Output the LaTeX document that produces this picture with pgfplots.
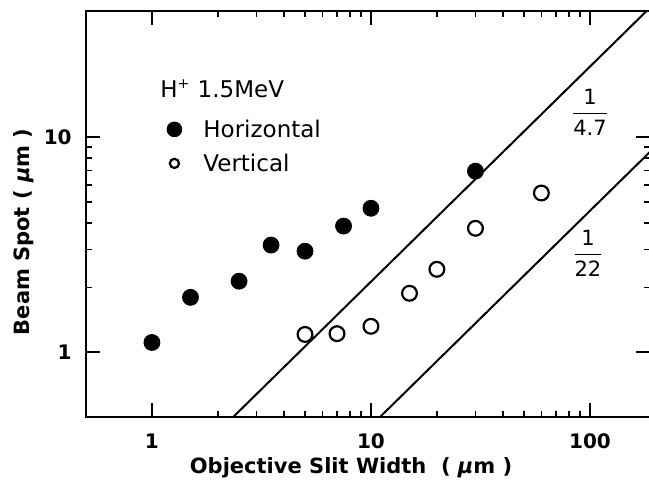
\documentclass[border=0pt]{standalone}
\usepackage{amsmath}
\usepackage{fontspec}
\setmainfont{DejaVu Sans}
\usepackage{pgfplots}
\pgfplotsset{compat=1.18}
\pgfplotsset{myleg/.style={legend image code/.code={\draw[##1, mark size=#1] plot coordinates {(0pt,4pt)}; \path[draw=none,fill=none] (-6pt,-1pt) rectangle (14.5pt,9pt);}}}
\begin{document}
\begin{tikzpicture}
\begin{loglogaxis}[
  at={(0,0)}, anchor=south west,
  scale only axis, width=282pt, height=203pt,
  xmin=0.5, xmax=188, ymin=0.5, ymax=38.6,
  xtick={1,10,100}, xticklabels={1,10,100},
  ytick={1,10}, yticklabels={1,10},
  tick align=inside,
  major tick length=7pt, minor tick length=3pt,
  every tick/.style={black, line width=0.8pt},
  axis line style={line width=1pt},
  tick label style={font=\bfseries\fontsize{10}{12}\selectfont, inner sep=0pt},
  x tick label style={anchor=center, yshift=-12pt},
  y tick label style={anchor=east},
  yticklabel shift=7pt,
  xlabel={Objective Slit Width\ \ ( \textit{μ}m )},
  ylabel={Beam Spot ( \textit{μ}m )},
  every axis x label/.style={at={(axis description cs:0.4699,-0.1256)}, anchor=center, font=\bfseries\fontsize{10.5}{12}\selectfont},
  every axis y label/.style={at={(axis description cs:-0.1100,0.456)}, rotate=90, anchor=center, font=\bfseries\fontsize{10.5}{12}\selectfont},
  legend style={draw=none, fill=none, at={(0.1348,0.734)}, anchor=north west,
    inner sep=0pt, row sep=6.5pt, column sep=0pt,
    nodes={inner sep=0pt, font=\fontsize{11.5}{13}\selectfont, anchor=base west}},
  legend cell align=left,
]
\addplot[only marks, mark=*, mark size=4pt, black, myleg=3.7pt]
  coordinates {(1,1.11) (1.5,1.80) (2.5,2.14) (3.5,3.15) (5,2.95) (7.5,3.86) (10,4.67) (30,6.95)};
\addlegendentry{Horizontal}
\addplot[only marks, mark=o, mark size=3.7pt, mark options={line width=1.1pt}, black, myleg=2.3pt]
  coordinates {(5,1.21) (7,1.22) (10,1.32) (15,1.88) (20,2.43) (30,3.77) (60,5.5)};
\addlegendentry{Vertical}
\addplot[black, line width=1pt, forget plot] coordinates {(2.35,0.5) (200,42.55)};
\addplot[black, line width=1pt, forget plot] coordinates {(11,0.5) (200,9.09)};
\node[anchor=base west, inner sep=0pt, font=\fontsize{11.5}{13}\selectfont] at (rel axis cs:0.1312,0.788) {H\textsuperscript{\scriptsize+} 1.5MeV};
\node[font=\fontsize{10.5}{12}\selectfont] at (axis cs:100,13.1) {$\genfrac{}{}{0.9pt}{0}{\mbox{1}}{\mbox{4.7}}$};
\node[font=\fontsize{10.5}{12}\selectfont] at (axis cs:97.9,2.89) {$\genfrac{}{}{0.9pt}{0}{\mbox{1}}{\mbox{22}}$};
\end{loglogaxis}
\pgfresetboundingbox
\path (-43pt,-35pt) rectangle (281.5pt,208.5pt);
\end{tikzpicture}
\end{document}
